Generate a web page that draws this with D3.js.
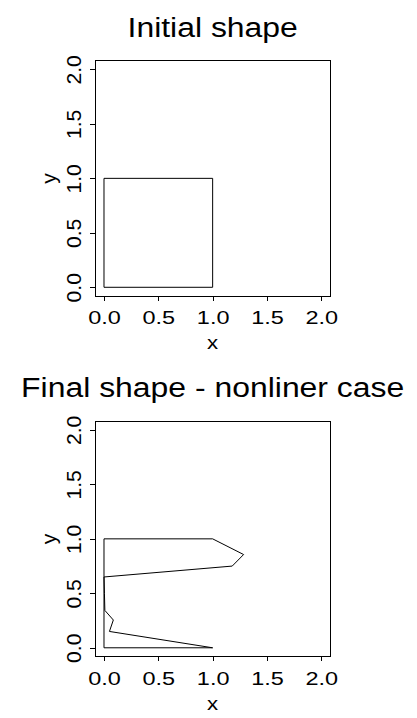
<!DOCTYPE html>
<html>
<head>
<meta charset="utf-8">
<script src="https://d3js.org/d3.v7.min.js"></script>
<style>
  body { margin: 0; background: #fff; }
  text { font-family: "Liberation Sans", Arial, sans-serif; fill: #000; }
</style>
</head>
<body>
<script>
// data
var tickValues = [0, 0.5, 1, 1.5, 2];
var titles = ["Initial shape", "Final shape - nonliner case"];
var initialX = [0, 1, 1, 0, 0];
var initialY = [0, 0, 1, 1, 0];
var finalX = [0, 1, 0.05, 0.086, 0.008, 0.004, 0, 1.18, 1.285, 1, 0, 0];
var finalY = [0, 0, 0.15, 0.255, 0.343, 0.5, 0.65, 0.75, 0.856, 1, 1, 0];

var w = 417, h = 718;
var svg = d3.select("body").append("svg").attr("width", w).attr("height", h);

var left = 95.3, right = 330, top0 = 60.7, bottom0 = 296;
var xScale = d3.scaleLinear().domain([-0.08, 2.08]).range([left, right]);

function panel(offset, title, xs, ys) {
  var yScale = d3.scaleLinear().domain([-0.08, 2.08]).range([bottom0 + offset, top0 + offset]);
  var g = svg.append("g");

  // title
  g.append("text")
    .attr("transform", "translate(212.7," + (36.7 + offset) + ") scale(1.14,1)")
    .attr("text-anchor", "middle")
    .style("font-size", "28px")
    .text(title);

  // shape
  var line = d3.line().x(function(d) { return xScale(d[0]); }).y(function(d) { return yScale(d[1]); });
  var pts = xs.map(function(v, i) { return [v, ys[i]]; });
  g.append("path")
    .attr("d", line(pts))
    .attr("fill", "none")
    .attr("stroke", "#000")
    .attr("stroke-width", 1);

  // box
  g.append("rect")
    .attr("x", left).attr("y", top0 + offset)
    .attr("width", right - left).attr("height", bottom0 - top0)
    .attr("fill", "none").attr("stroke", "#000").attr("stroke-width", 1)
    .attr("shape-rendering", "crispEdges");

  // x axis
  var xAxis = d3.axisBottom(xScale).tickValues(tickValues).tickSize(4.5).tickFormat(d3.format(".1f"));
  var xa = g.append("g").attr("transform", "translate(0," + (bottom0 + offset) + ")").call(xAxis);
  xa.select(".domain").remove();
  xa.selectAll("line").attr("shape-rendering", "crispEdges");
  xa.selectAll("text")
    .attr("y", null).attr("dy", null)
    .attr("transform", "translate(0,28) scale(1.27,1)")
    .style("font-size", "18.5px").style("font-family", "Liberation Sans, Arial, sans-serif")
    .attr("fill", "#000");

  // y axis
  var yAxis = d3.axisLeft(yScale).tickValues(tickValues).tickSize(5).tickFormat(d3.format(".1f"));
  var ya = g.append("g").attr("transform", "translate(" + left + ",0)").call(yAxis);
  ya.select(".domain").remove();
  ya.selectAll("line").attr("shape-rendering", "crispEdges");
  ya.selectAll("text")
    .attr("x", null).attr("dy", null)
    .attr("text-anchor", "middle")
    .attr("transform", "translate(" + (81 - left) + ",0) rotate(-90) scale(1.14,1.1)")
    .style("font-size", "18.5px").style("font-family", "Liberation Sans, Arial, sans-serif")
    .attr("fill", "#000");

  // axis labels
  g.append("text")
    .attr("transform", "translate(" + xScale(1) + "," + (349 + offset) + ") scale(1.2,1)")
    .attr("text-anchor", "middle")
    .style("font-size", "18.5px")
    .text("x");
  g.append("text")
    .attr("transform", "translate(56," + ((top0 + bottom0) / 2 + offset) + ") rotate(-90) scale(1.15,1.12)")
    .attr("text-anchor", "middle")
    .style("font-size", "18.5px")
    .text("y");
}

panel(0, titles[0], initialX, initialY);
panel(360.5, titles[1], finalX, finalY);
</script>
</body>
</html>
